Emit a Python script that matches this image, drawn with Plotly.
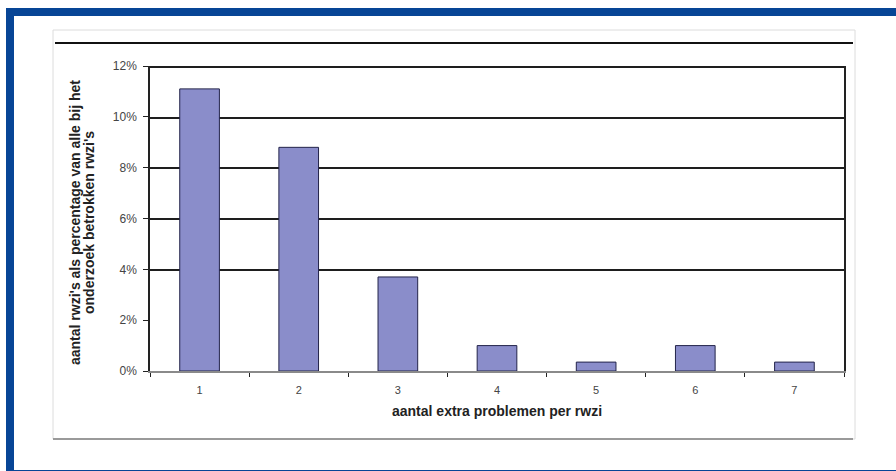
import plotly.graph_objects as go

categories = ["1", "2", "3", "4", "5", "6", "7"]
percentages = [11.1, 8.8, 3.7, 1.0, 0.35, 1.0, 0.35]
y_ticks = [0, 2, 4, 6, 8, 10, 12]
y_tick_labels = ["0%", "2%", "4%", "6%", "8%", "10%", "12%"]
grid_ticks = [4, 6, 8, 10, 12]

x_title = "aantal extra problemen per rwzi"
y_title_lines = ["aantal rwzi's als percentage van alle bij het", "onderzoek betrokken rwzi's"]

FONT = "Liberation Sans, Arial, sans-serif"
BLUE = "#074596"

fig = go.Figure()
fig.add_trace(go.Bar(
    x=categories, y=percentages,
    marker=dict(color="#8a8dca", line=dict(color="#23244a", width=1)),
    showlegend=False,
))
# invisible trace so yaxis2 (grid axis) renders
fig.add_trace(go.Scatter(x=categories, y=percentages, yaxis="y2", mode="none",
                         showlegend=False, hoverinfo="skip"))

fig.update_layout(
    width=896, height=471,
    margin=dict(l=150, r=52, t=66, b=100),
    paper_bgcolor="white", plot_bgcolor="white",
    bargap=0.6,
    font=dict(family=FONT, size=11, color="#333"),
    xaxis=dict(
        type="category",
        showline=True, linecolor="#8a8a8a", linewidth=1.5,
        ticks="outside", tickson="boundaries", ticklen=4, tickcolor="#222",
        tickfont=dict(size=11, color="#444"), ticklabelstandoff=8,
        showgrid=False,
    ),
    yaxis=dict(
        range=[0, 12], tickvals=y_ticks, ticktext=y_tick_labels,
        showline=True, linecolor="#222", linewidth=1.5, mirror=True,
        ticks="outside", ticklen=5, tickcolor="#222",
        tickfont=dict(size=12, color="#444"), ticklabelstandoff=4,
        showgrid=False, zeroline=False,
    ),
    yaxis2=dict(
        range=[0, 12.04], overlaying="y", side="left", tickvals=grid_ticks,
        showticklabels=False, showgrid=True, gridcolor="#1e1e1e", gridwidth=1.6,
        zeroline=False, showline=False,
    ),
)

def px_x(p):
    return (p - 150) / 694

def px_y(p):
    return (371 - p) / 305

shapes = [
    dict(type="rect", xref="paper", yref="paper",
         x0=px_x(10), x1=px_x(905), y0=px_y(474), y1=px_y(12),
         line=dict(color=BLUE, width=8), fillcolor="rgba(0,0,0,0)", layer="above"),
    dict(type="rect", xref="paper", yref="paper",
         x0=px_x(53), x1=px_x(855), y0=px_y(439), y1=px_y(30),
         line=dict(color="#dcdcdc", width=1), fillcolor="rgba(0,0,0,0)", layer="below"),
    dict(type="line", xref="paper", yref="paper",
         x0=px_x(53), x1=px_x(853), y0=px_y(439), y1=px_y(439),
         line=dict(color="#9a9a9a", width=2)),
    dict(type="line", xref="paper", yref="paper",
         x0=px_x(55), x1=px_x(853), y0=px_y(43), y1=px_y(43),
         line=dict(color="#111", width=2)),
]
fig.update_layout(shapes=shapes)

for line_text, px in zip(y_title_lines, [75, 89]):
    fig.add_annotation(
        text=line_text, xref="paper", yref="paper",
        x=px_x(px), y=px_y(223), xanchor="center", yanchor="middle",
        textangle=-90, showarrow=False,
        font=dict(family=FONT, size=14, color="#222", weight="bold"),
    )
fig.add_annotation(
    text=x_title, xref="paper", yref="paper",
    x=px_x(497), y=px_y(411), xanchor="center", yanchor="middle",
    showarrow=False,
    font=dict(family=FONT, size=14, color="#222", weight="bold"),
)

fig.write_html("out.html")
